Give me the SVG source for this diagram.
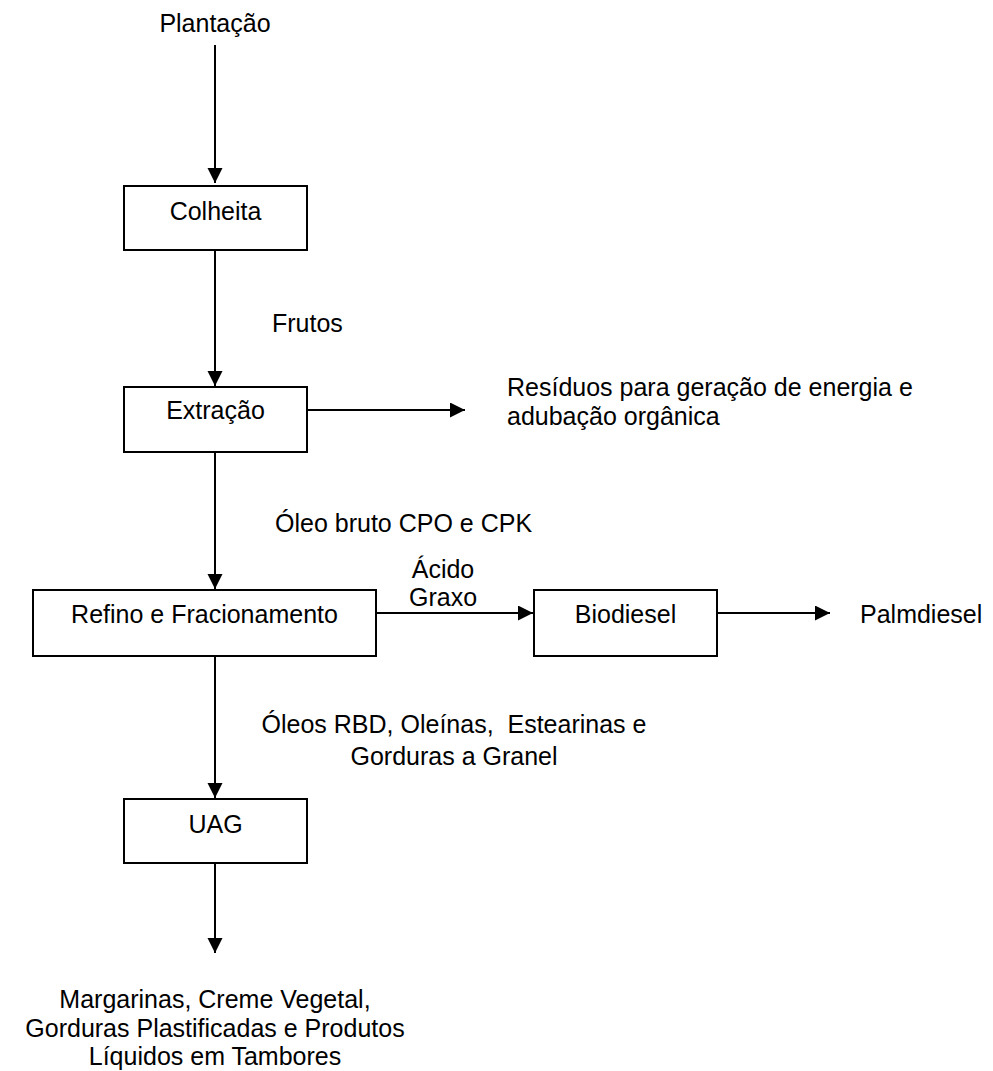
<svg xmlns="http://www.w3.org/2000/svg" width="993" height="1071" viewBox="0 0 993 1071">
<style>
  .box { fill: #ffffff; stroke: #000000; stroke-width: 2; }
  .ln { fill: none; stroke: #000000; stroke-width: 2; }
  text { font-family: "Liberation Sans", Arial, sans-serif; font-size: 25px; fill: #000000; white-space: pre; }
  .c { text-anchor: middle; }
</style>
<defs>
  <marker id="arr" markerUnits="userSpaceOnUse" markerWidth="16" markerHeight="16" refX="15" refY="7.5" orient="auto">
    <path d="M0,0 L15,7.5 L0,15 z" fill="#000000"/>
  </marker>
</defs>
<rect width="993" height="1071" fill="#ffffff"/>
<g id="connectors">
  <path class="ln" d="M215,45 L215,183" marker-end="url(#arr)"/>
  <path class="ln" d="M215,250 L215,386" marker-end="url(#arr)"/>
  <path class="ln" d="M307,410 L465,410" marker-end="url(#arr)"/>
  <path class="ln" d="M215,452 L215,589" marker-end="url(#arr)"/>
  <path class="ln" d="M376,613 L533,613" marker-end="url(#arr)"/>
  <path class="ln" d="M717,613 L830,613" marker-end="url(#arr)"/>
  <path class="ln" d="M215,656 L215,798" marker-end="url(#arr)"/>
  <path class="ln" d="M215,863 L215,953" marker-end="url(#arr)"/>
</g>
<g id="labels">
  <text class="c" x="215" y="32">Plantação</text>
  <text x="272" y="332">Frutos</text>
  <text x="507" y="396">Resíduos para geração de energia e</text>
  <text x="507" y="425">adubação orgânica</text>
  <text x="275" y="532">Óleo bruto CPO e CPK</text>
  <text class="c" x="443" y="578">Ácido</text>
  <text class="c" x="443" y="606">Graxo</text>
  <text x="860" y="623">Palmdiesel</text>
  <text class="c" x="454" y="733">Óleos RBD, Oleínas,  Estearinas e</text>
  <text class="c" x="454" y="765">Gorduras a Granel</text>
  <text class="c" x="215" y="1008">Margarinas, Creme Vegetal,</text>
  <text class="c" x="215" y="1037">Gorduras Plastificadas e Produtos</text>
  <text class="c" x="215" y="1065">Líquidos em Tambores</text>
</g>
<g id="node-colheita">
  <rect class="box" x="124" y="186" width="183" height="64"/>
  <text class="c" x="215.5" y="220">Colheita</text>
</g>
<g id="node-extracao">
  <rect class="box" x="124" y="387" width="183" height="65"/>
  <text class="c" x="215.5" y="419">Extração</text>
</g>
<g id="node-refino">
  <rect class="box" x="33" y="590" width="343" height="66"/>
  <text class="c" x="204.5" y="623">Refino e Fracionamento</text>
</g>
<g id="node-biodiesel">
  <rect class="box" x="534" y="590" width="183" height="66"/>
  <text class="c" x="625.5" y="623">Biodiesel</text>
</g>
<g id="node-uag">
  <rect class="box" x="124" y="799" width="183" height="64"/>
  <text class="c" x="215.5" y="833">UAG</text>
</g>
</svg>
